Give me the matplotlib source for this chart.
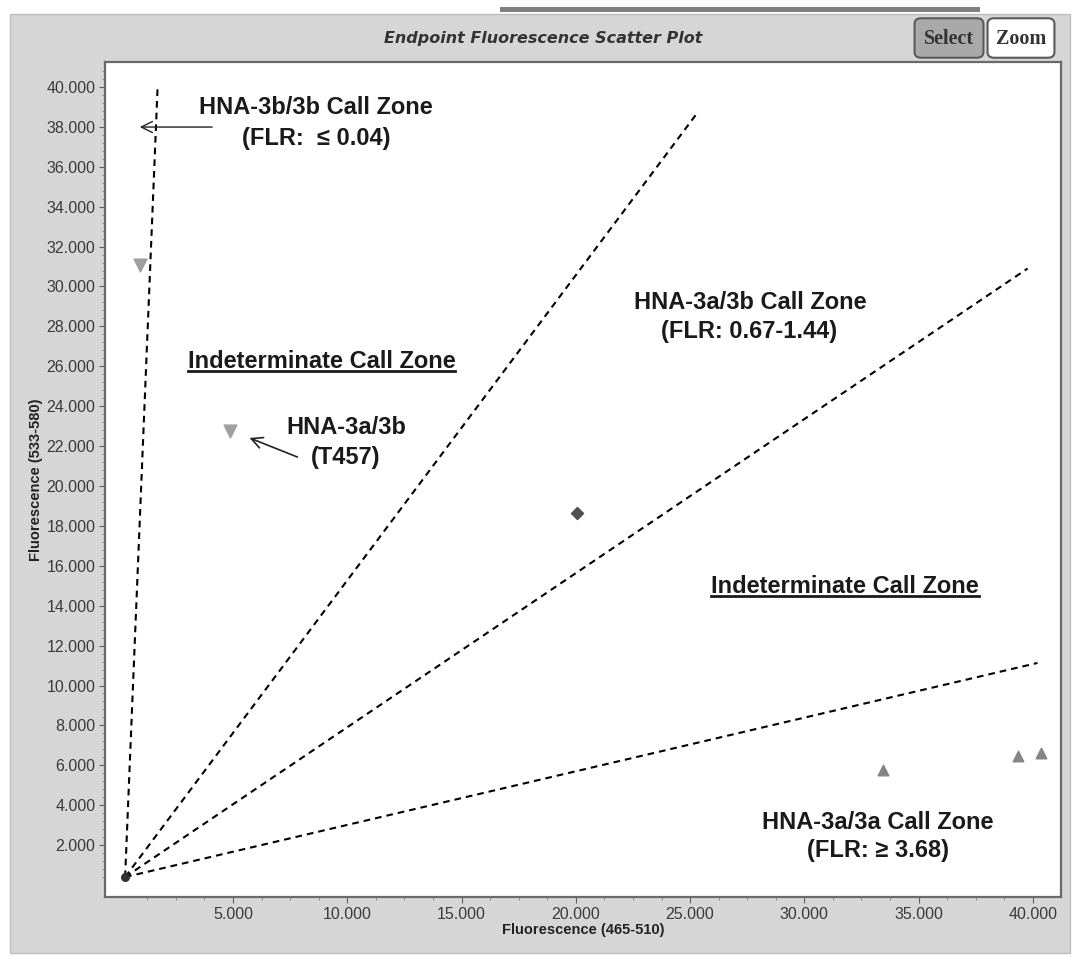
import matplotlib
matplotlib.use("Agg")
import matplotlib.pyplot as plt
from matplotlib.patches import Rectangle, FancyBboxPatch
from matplotlib.lines import Line2D
import numpy as np

# samples (x = 465-510 channel, y = 533-580 channel)
hom_b_x = [930, 4870]
hom_b_y = [31080, 22760]
het_x = [20050]
het_y = [18650]
hom_a_x = [33440, 39350, 40350]
hom_a_y = [5750, 6470, 6620]
ntc_x = [280]
ntc_y = [400]

# call zone boundaries, from origin to end point
bound_x0 = [280, 280, 280, 280]
bound_y0 = [400, 400, 400, 400]
bound_x1 = [1700, 25350, 39770, 40200]
bound_y1 = [39950, 38750, 30900, 11130]

x_ticks = [5000, 10000, 15000, 20000, 25000, 30000, 35000, 40000]
y_ticks = list(range(2000, 40001, 2000))

W, H = 1074, 956
fig = plt.figure(figsize=(W / 100, H / 100), dpi=100)
fig.patch.set_facecolor("white")

# window panel
fig.patches.append(Rectangle((10 / W, 3 / H), 1060 / W, 939 / H, transform=fig.transFigure,
                             facecolor="#d6d6d6", edgecolor="#bdbdbd", lw=1.0, zorder=-5))
fig.patches.append(Rectangle((500 / W, 1 - 12 / H), 480 / W, 5 / H, transform=fig.transFigure,
                             facecolor="#808080", edgecolor="none", zorder=-4))

ax = fig.add_axes([105 / W, 1 - 897 / H, 956 / W, 835 / H])
ax.set_facecolor("white")
ax.set_xlim(-600, 41230)
ax.set_ylim(-600, 41250)

for x0, y0, x1, y1 in zip(bound_x0, bound_y0, bound_x1, bound_y1):
    ax.plot([x0, x1], [y0, y1], color="black", lw=1.5, ls=(0, (3.2, 2.4)), zorder=2)

ax.scatter(hom_b_x, hom_b_y, marker="v", s=85, color="#a0a0a0", zorder=3)
ax.scatter(het_x, het_y, marker="D", s=38, color="#505050", zorder=3)
ax.scatter(hom_a_x, hom_a_y, marker="^", s=58, color="#858585", zorder=3)
ax.scatter(ntc_x, ntc_y, marker="o", s=30, color="#303030", zorder=3)

tick_font = dict(family=["Liberation Sans", "DejaVu Sans"], size=11.5, color="#3a3a3a")
ax.set_xticks(x_ticks)
ax.set_xticklabels([f"{v:,}".replace(",", ".") for v in x_ticks], **tick_font)
ax.set_yticks(y_ticks)
ax.set_yticklabels([f"{v:,}".replace(",", ".") for v in y_ticks], **tick_font)
ax.set_xticks(np.arange(1250, 41000, 1250), minor=True)
ax.set_yticks(np.arange(400, 41000, 400), minor=True)
ax.tick_params(which="major", length=4, width=0.8, color="#606060", pad=3)
ax.tick_params(which="minor", length=2.5, width=0.6, color="#808080")
for s in ax.spines.values():
    s.set_color("#6a6a6a")
    s.set_linewidth(1.6)

lab_font = dict(family=["Liberation Sans Narrow", "Liberation Sans", "DejaVu Sans"],
                size=10.5, weight="bold", color="#222222")
ax.set_xlabel("Fluorescence (465-510)", labelpad=1, **lab_font)
ax.set_ylabel("Fluorescence (533-580)", labelpad=2, **lab_font)

fig.text(543 / W, 1 - 39 / H, "Endpoint Fluorescence Scatter Plot", ha="center", va="center",
         fontsize=11.5, fontweight="bold", fontstyle="italic", color="#333333",
         family=["DejaVu Sans"])

# buttons
for cx, w, label, fc in [(949, 68, "Select", "#a9a9a9"), (1021, 66, "Zoom", "white")]:
    fig.patches.append(FancyBboxPatch(((cx - w / 2 + 6) / W, 1 - 52 / H), (w - 12) / W, 28 / H,
                                      boxstyle="round,pad=0.006", transform=fig.transFigure,
                                      facecolor=fc, edgecolor="#5a5a5a", lw=1.5, zorder=2))
    fig.text(cx / W, 1 - 39 / H, label, ha="center", va="center", fontsize=14.5,
             fontweight="bold", color="#333333", family=["Liberation Serif", "DejaVu Serif"], zorder=3)

ann = dict(family=["Liberation Sans", "DejaVu Sans"], size=17, weight="bold", color="#1a1a1a",
           ha="center", va="center")

ax.text(8630, 38950, "HNA-3b/3b Call Zone", **ann)
ax.text(8630, 37440, "(FLR:  ≤ 0.04)", **ann)
ax.annotate("", xy=(800, 37990), xytext=(4210, 37990),
            arrowprops=dict(arrowstyle="->", color="#222222", lw=1.0, mutation_scale=20))

ind1 = ax.text(8870, 26220, "Indeterminate Call Zone", **ann)
ax.text(9940, 22910, "HNA-3a/3b", **ann)
ax.text(9940, 21450, "(T457)", **ann)
ax.annotate("", xy=(5610, 22460), xytext=(7930, 21400),
            arrowprops=dict(arrowstyle="->", color="#222222", lw=1.2, mutation_scale=20))

ax.text(27620, 29220, "HNA-3a/3b Call Zone", **ann)
ax.text(27570, 27720, "(FLR: 0.67-1.44)", **ann)

ind2 = ax.text(31780, 14940, "Indeterminate Call Zone", **ann)

ax.text(33210, 3110, "HNA-3a/3a Call Zone", **ann)
ax.text(33210, 1750, "(FLR: ≥ 3.68)", **ann)

# underline the indeterminate labels
fig.canvas.draw()
r = fig.canvas.get_renderer()
for t in (ind1, ind2):
    bb = t.get_window_extent(r).transformed(fig.transFigure.inverted())
    fig.lines.append(Line2D([bb.x0, bb.x1], [bb.y0 + 0.003, bb.y0 + 0.003], transform=fig.transFigure,
                            color="#1a1a1a", lw=2.0))

fig.savefig("out.png", dpi=100)
